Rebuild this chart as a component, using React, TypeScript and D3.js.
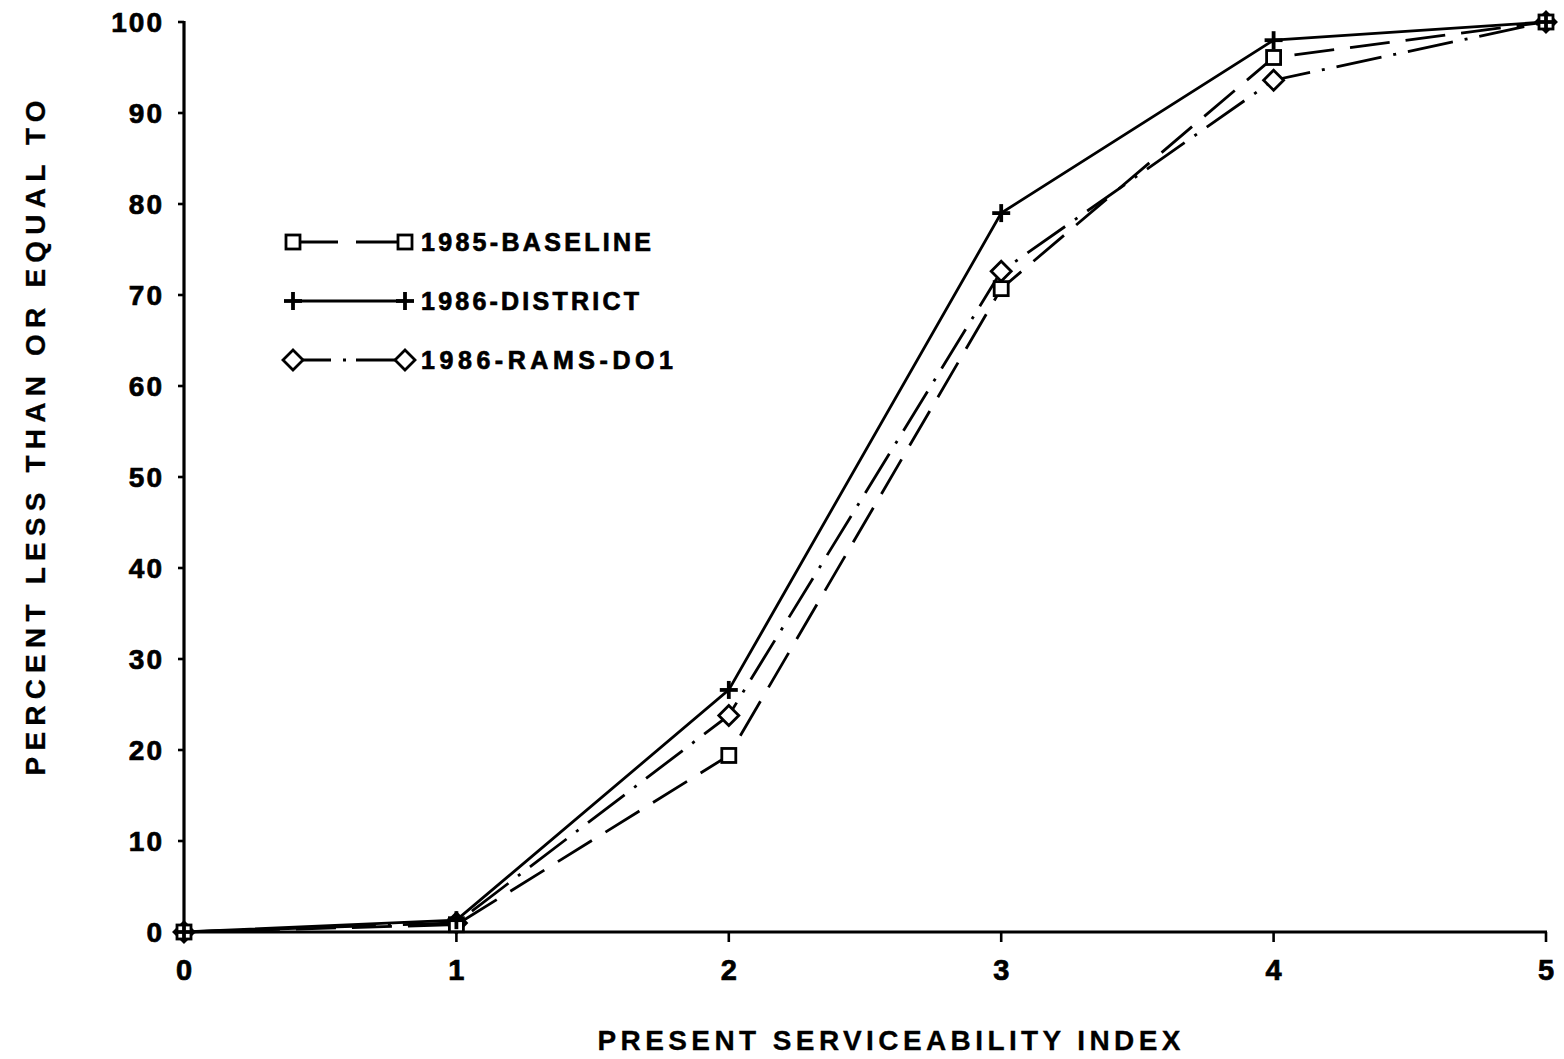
import React from "react";
import * as d3 from "d3";

const psi = [0, 1, 2, 3, 4, 5];
const baseline = [0, 0.8, 19.4, 70.7, 96.1, 100];
const district = [0, 1.3, 26.6, 79.0, 98.0, 100];
const rams = [0, 1.0, 23.8, 72.6, 93.6, 100];
const yTicks = [0, 10, 20, 30, 40, 50, 60, 70, 80, 90, 100];
const xTicks = [0, 1, 2, 3, 4, 5];
const seriesNames = ["1985-BASELINE", "1986-DISTRICT", "1986-RAMS-DO1"];

const W = 1564, H = 1059;
const x = d3.scaleLinear().domain([0, 5]).range([184, 1546]);
const y = d3.scaleLinear().domain([0, 100]).range([932, 22]);
const FONT = "'Liberation Sans', Arial, Helvetica, sans-serif";

function Marker({ kind, cx, cy }: { kind: string; cx: number; cy: number }) {
  if (kind === "square") {
    const s = 7;
    return <rect x={cx - s} y={cy - s} width={2 * s} height={2 * s} fill="#fff" stroke="#000" strokeWidth={2.8} />;
  }
  if (kind === "plus") {
    const s = 9;
    return (
      <g stroke="#000" strokeWidth={3.8}>
        <line x1={cx - s} x2={cx + s} y1={cy} y2={cy} />
        <line x1={cx} x2={cx} y1={cy - s} y2={cy + s} />
      </g>
    );
  }
  const s = 10;
  return (
    <path d={`M${cx - s},${cy}L${cx},${cy - s}L${cx + s},${cy}L${cx},${cy + s}Z`} fill="#fff" stroke="#000" strokeWidth={2.8} />
  );
}

export default function App() {
  const series = [
    { name: seriesNames[0], vals: baseline, kind: "square", dash: "40 16" },
    { name: seriesNames[1], vals: district, kind: "plus", dash: "none" },
    { name: seriesNames[2], vals: rams, kind: "diamond", dash: "46 12 3 12" },
  ];
  const drawOrder = [2, 0, 1];
  const line = d3.line<number>().x((_, i) => x(psi[i])).y((v) => y(v));
  const legendY = [242, 301, 360];
  const legendW = [230, 218, 252];
  const txt = { fontFamily: FONT, fontWeight: "bold" as const, stroke: "#000", strokeWidth: 0.7 };
  return (
    <svg width={W} height={H} style={{ position: "absolute", left: 0, top: 0, background: "#fff" }}>
      <rect width={W} height={H} fill="#fff" />
      {/* axes */}
      <line x1={x(0)} x2={x(0)} y1={y(0) + 1} y2={y(100) - 1} stroke="#000" strokeWidth={3.2} />
      <line x1={x(0) - 1} x2={x(5) + 1} y1={y(0)} y2={y(0)} stroke="#000" strokeWidth={3.2} />
      {yTicks.map((t) => (
        <g key={"y" + t}>
          <line x1={x(0) - 6} x2={x(0)} y1={y(t)} y2={y(t)} stroke="#000" strokeWidth={2.6} />
          <text x={164} y={y(t)} dy="0.36em" textAnchor="end" fontSize={28} letterSpacing={2} {...txt}>
            {t}
          </text>
        </g>
      ))}
      {xTicks.map((t) => (
        <g key={"x" + t}>
          <line x1={x(t)} x2={x(t)} y1={y(0)} y2={y(0) + 10} stroke="#000" strokeWidth={2.6} />
          <text x={x(t)} y={980} textAnchor="middle" fontSize={29} {...txt}>
            {t}
          </text>
        </g>
      ))}
      {/* series */}
      {series.map((s) => (
        <path key={s.name} d={line(s.vals) || ""} fill="none" stroke="#000" strokeWidth={2.8} strokeDasharray={s.dash} />
      ))}
      {drawOrder.map((k) =>
        series[k].vals.map((v, i) => <Marker key={series[k].name + i} kind={series[k].kind} cx={x(psi[i])} cy={y(v)} />)
      )}
      {/* legend */}
      {series.map((s, i) => (
        <g key={"lg" + s.name}>
          <line x1={293} x2={405} y1={legendY[i]} y2={legendY[i]} stroke="#000" strokeWidth={2.8} strokeDasharray={s.kind === "square" ? "45 18 60" : s.kind === "diamond" ? "38 12 3 10 60" : "none"} />
          <Marker kind={s.kind} cx={293} cy={legendY[i]} />
          <Marker kind={s.kind} cx={405} cy={legendY[i]} />
          <text x={421} y={legendY[i]} dy="0.36em" fontSize={25} textLength={legendW[i]} lengthAdjust="spacing" {...txt}>
            {s.name}
          </text>
        </g>
      ))}
      {/* titles */}
      <text x={889} y={1050} textAnchor="middle" fontSize={28} textLength={583} lengthAdjust="spacing" {...txt} strokeWidth={0.3}>
        PRESENT SERVICEABILITY INDEX
      </text>
      <text transform="translate(45,438) rotate(-90)" textAnchor="middle" fontSize={28} textLength={675} lengthAdjust="spacing" {...txt} strokeWidth={0.3}>
        PERCENT LESS THAN OR EQUAL TO
      </text>
    </svg>
  );
}
